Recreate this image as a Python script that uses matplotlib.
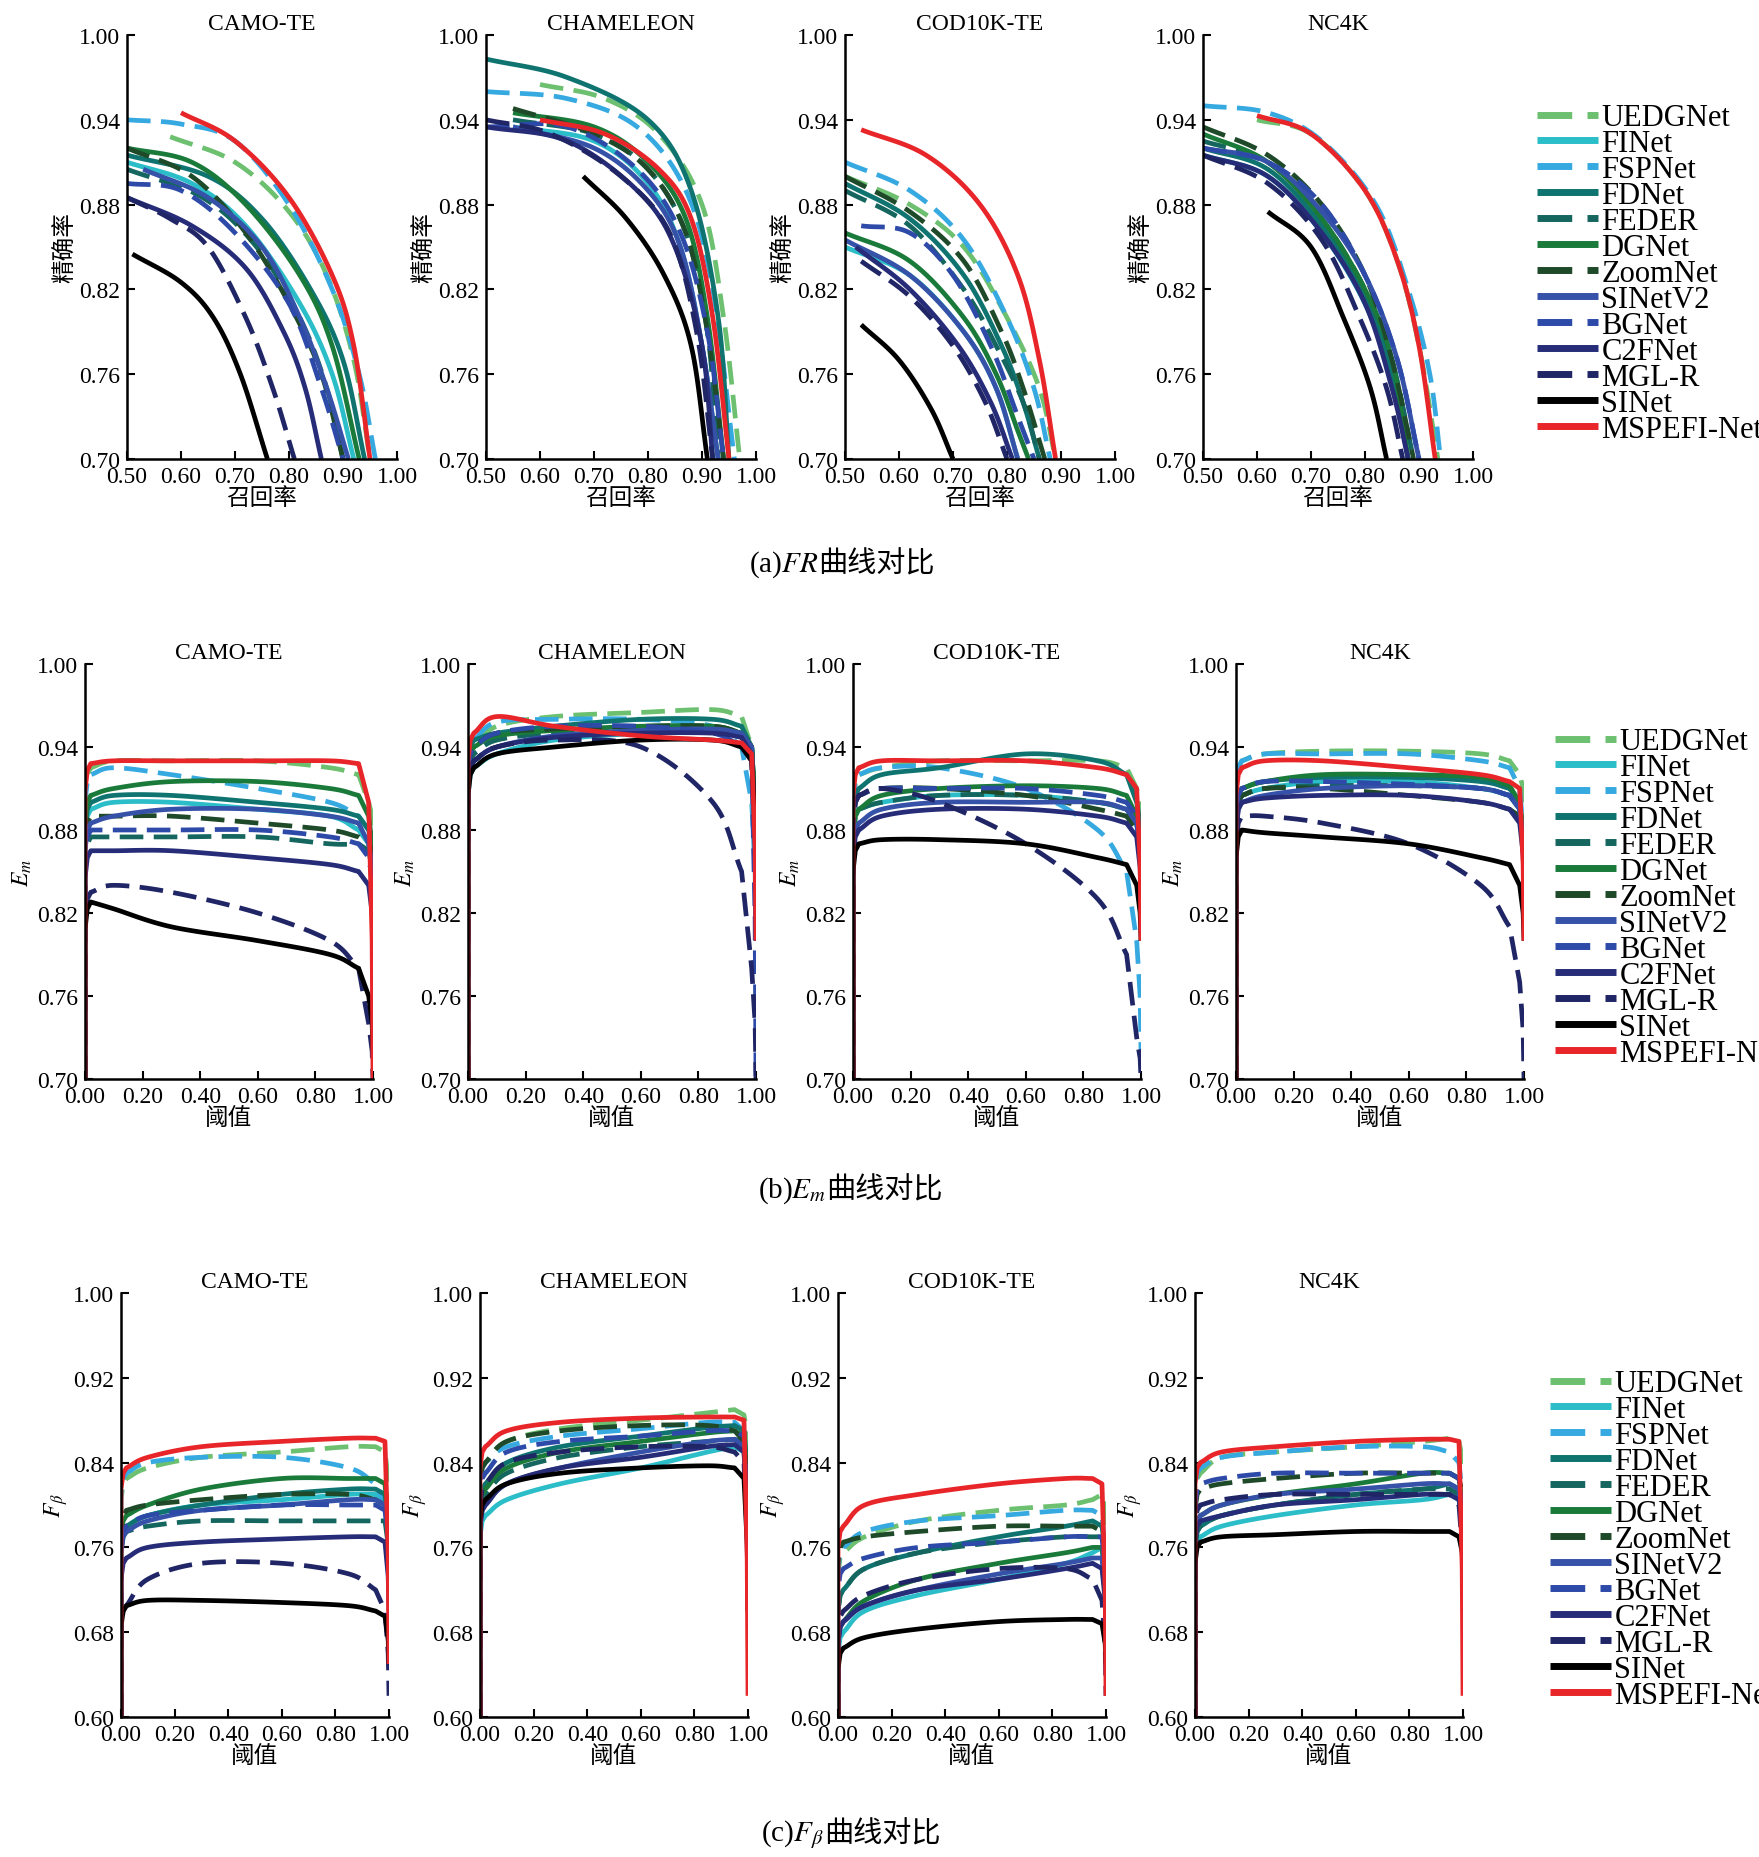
import numpy as np
import matplotlib
matplotlib.use('Agg')
import matplotlib.pyplot as plt

plt.rcParams['font.family'] = ['Liberation Serif', 'Noto Sans CJK SC']
plt.rcParams['mathtext.fontset'] = 'stix'

methods = ['UEDGNet', 'FINet', 'FSPNet', 'FDNet', 'FEDER', 'DGNet', 'ZoomNet',
           'SINetV2', 'BGNet', 'C2FNet', 'MGL-R', 'SINet', 'MSPEFI-Net']
colors = ['#6cc070', '#2bbdc8', '#36a9e1', '#0f7470', '#14665f', '#1a7a3a', '#1f4a2a',
          '#3652a8', '#2e4aa8', '#262c78', '#202566', '#000000', '#e8262a']
dashed = [True, False, True, False, True, False, True, False, True, False, True, False, False]
datasets = ['CAMO-TE', 'CHAMELEON', 'COD10K-TE', 'NC4K']

# ---- PR curves: (recall, precision) points, order as methods
PR_CAMO = [
    [(0.58,0.928),(0.70,0.91),(0.80,0.875),(0.87,0.83),(0.92,0.77),(0.95,0.70)],
    [(0.50,0.91),(0.62,0.895),(0.72,0.865),(0.82,0.81),(0.88,0.76),(0.92,0.70)],
    [(0.50,0.94),(0.60,0.937),(0.70,0.925),(0.80,0.88),(0.88,0.82),(0.93,0.76),(0.96,0.70)],
    [(0.50,0.915),(0.65,0.90),(0.75,0.87),(0.84,0.82),(0.90,0.77),(0.94,0.70)],
    [(0.50,0.905),(0.64,0.885),(0.74,0.85),(0.82,0.80),(0.87,0.75),(0.90,0.70)],
    [(0.50,0.92),(0.62,0.91),(0.72,0.88),(0.82,0.83),(0.88,0.78),(0.93,0.70)],
    [(0.50,0.92),(0.62,0.90),(0.72,0.86),(0.80,0.81),(0.86,0.76),(0.90,0.70)],
    [(0.53,0.905),(0.65,0.885),(0.75,0.85),(0.82,0.80),(0.87,0.75),(0.91,0.70)],
    [(0.50,0.895),(0.60,0.89),(0.70,0.86),(0.80,0.81),(0.86,0.75),(0.90,0.70)],
    [(0.50,0.885),(0.62,0.865),(0.72,0.835),(0.79,0.79),(0.83,0.75),(0.86,0.70)],
    [(0.50,0.885),(0.58,0.87),(0.65,0.85),(0.72,0.80),(0.77,0.75),(0.81,0.70)],
    [(0.51,0.845),(0.60,0.825),(0.66,0.80),(0.71,0.76),(0.76,0.70)],
    [(0.60,0.945),(0.70,0.925),(0.80,0.885),(0.88,0.83),(0.92,0.78),(0.95,0.70)],
]
PR_CHAM = [
    [(0.60,0.965),(0.72,0.955),(0.82,0.93),(0.90,0.88),(0.94,0.80),(0.97,0.70)],
    [(0.55,0.935),(0.70,0.925),(0.80,0.895),(0.86,0.85),(0.90,0.78),(0.93,0.70)],
    [(0.50,0.96),(0.65,0.955),(0.78,0.935),(0.87,0.89),(0.92,0.82),(0.96,0.70)],
    [(0.50,0.983),(0.65,0.97),(0.80,0.94),(0.88,0.89),(0.93,0.80),(0.95,0.70)],
    [(0.55,0.94),(0.70,0.93),(0.80,0.905),(0.87,0.86),(0.91,0.79),(0.93,0.70)],
    [(0.55,0.945),(0.70,0.935),(0.80,0.91),(0.87,0.87),(0.91,0.80),(0.94,0.70)],
    [(0.55,0.948),(0.70,0.93),(0.80,0.905),(0.87,0.86),(0.91,0.79),(0.94,0.70)],
    [(0.55,0.935),(0.70,0.92),(0.80,0.89),(0.86,0.85),(0.90,0.78),(0.93,0.70)],
    [(0.50,0.935),(0.65,0.935),(0.78,0.905),(0.86,0.86),(0.91,0.79),(0.94,0.70)],
    [(0.50,0.935),(0.65,0.925),(0.78,0.89),(0.85,0.85),(0.90,0.78),(0.92,0.70)],
    [(0.50,0.94),(0.62,0.93),(0.75,0.90),(0.84,0.86),(0.89,0.79),(0.92,0.70)],
    [(0.68,0.90),(0.76,0.87),(0.83,0.83),(0.88,0.78),(0.91,0.70)],
    [(0.60,0.94),(0.72,0.93),(0.82,0.905),(0.88,0.87),(0.92,0.80),(0.95,0.70)],
]
PR_COD = [
    [(0.50,0.90),(0.62,0.88),(0.72,0.85),(0.80,0.80),(0.86,0.75),(0.89,0.70)],
    [(0.50,0.85),(0.62,0.83),(0.72,0.79),(0.78,0.75),(0.82,0.70)],
    [(0.50,0.91),(0.62,0.89),(0.72,0.855),(0.80,0.80),(0.85,0.75),(0.88,0.70)],
    [(0.50,0.895),(0.62,0.87),(0.72,0.83),(0.79,0.78),(0.83,0.74),(0.86,0.70)],
    [(0.50,0.89),(0.62,0.865),(0.72,0.82),(0.78,0.78),(0.83,0.74),(0.86,0.70)],
    [(0.50,0.86),(0.62,0.84),(0.72,0.80),(0.78,0.76),(0.82,0.72),(0.84,0.70)],
    [(0.50,0.90),(0.62,0.875),(0.72,0.84),(0.79,0.79),(0.83,0.75),(0.87,0.70)],
    [(0.50,0.855),(0.62,0.83),(0.72,0.79),(0.78,0.75),(0.82,0.70)],
    [(0.53,0.865),(0.62,0.86),(0.70,0.83),(0.77,0.78),(0.82,0.73),(0.85,0.70)],
    [(0.52,0.85),(0.62,0.82),(0.71,0.78),(0.77,0.74),(0.81,0.70)],
    [(0.53,0.84),(0.62,0.815),(0.70,0.78),(0.76,0.74),(0.80,0.70)],
    [(0.53,0.795),(0.60,0.77),(0.66,0.735),(0.70,0.70)],
    [(0.53,0.933),(0.65,0.915),(0.75,0.88),(0.82,0.83),(0.86,0.77),(0.89,0.70)],
]
PR_NC4K = [
    [(0.60,0.94),(0.70,0.93),(0.80,0.89),(0.86,0.84),(0.90,0.78),(0.935,0.70)],
    [(0.50,0.915),(0.62,0.90),(0.72,0.86),(0.80,0.81),(0.85,0.76),(0.88,0.70)],
    [(0.50,0.95),(0.62,0.945),(0.72,0.925),(0.82,0.88),(0.88,0.82),(0.92,0.76),(0.94,0.70)],
    [(0.50,0.92),(0.62,0.905),(0.72,0.865),(0.80,0.815),(0.85,0.76),(0.88,0.70)],
    [(0.50,0.925),(0.62,0.91),(0.72,0.87),(0.80,0.82),(0.85,0.77),(0.89,0.70)],
    [(0.50,0.93),(0.62,0.91),(0.72,0.87),(0.80,0.82),(0.85,0.77),(0.88,0.70)],
    [(0.50,0.935),(0.62,0.915),(0.72,0.88),(0.80,0.83),(0.85,0.77),(0.89,0.70)],
    [(0.50,0.92),(0.62,0.91),(0.72,0.875),(0.80,0.83),(0.86,0.77),(0.90,0.70)],
    [(0.50,0.92),(0.62,0.91),(0.72,0.88),(0.80,0.83),(0.86,0.77),(0.90,0.70)],
    [(0.50,0.915),(0.62,0.90),(0.72,0.86),(0.80,0.81),(0.85,0.75),(0.88,0.70)],
    [(0.50,0.915),(0.62,0.895),(0.72,0.855),(0.79,0.80),(0.84,0.75),(0.87,0.70)],
    [(0.62,0.875),(0.70,0.85),(0.76,0.80),(0.81,0.75),(0.84,0.70)],
    [(0.60,0.943),(0.70,0.93),(0.80,0.89),(0.86,0.84),(0.90,0.78),(0.93,0.70)],
]

# ---- threshold curves: values at these thresholds (curve starts at the axis bottom at 0)
thr = [0.02, 0.1, 0.3, 0.6, 0.85, 0.95, 0.985, 1.0]
EM_CAMO = [
    [.925,.93,.93,.93,.925,.92,.90,.88], [.895,.90,.90,.895,.89,.88,.87,.84],
    [.92,.925,.92,.91,.90,.89,.88,.87], [.90,.905,.905,.90,.895,.89,.88,.85],
    [.875,.875,.875,.875,.87,.87,.865,.84], [.905,.91,.915,.915,.91,.905,.89,.85],
    [.89,.89,.89,.885,.88,.875,.87,.86], [.885,.89,.895,.895,.89,.885,.87,.84],
    [.88,.88,.88,.88,.875,.87,.86,.83], [.865,.865,.865,.86,.855,.85,.84,.80],
    [.835,.84,.835,.82,.80,.78,.74,.70], [.828,.823,.81,.80,.79,.78,.76,.72],
    [.928,.93,.93,.93,.93,.928,.90,.70],
]
EM_CHAM = [
    [.94,.955,.962,.965,.967,.962,.94,.85], [.925,.935,.945,.95,.952,.95,.94,.85],
    [.945,.958,.96,.96,.955,.94,.90,.80], [.945,.95,.955,.96,.96,.955,.94,.85],
    [.935,.945,.95,.952,.952,.95,.94,.85], [.94,.948,.952,.955,.955,.95,.94,.85],
    [.94,.95,.953,.955,.955,.95,.94,.85], [.93,.94,.948,.952,.953,.95,.94,.80],
    [.94,.95,.955,.955,.95,.94,.93,.70], [.93,.94,.947,.95,.95,.947,.935,.80],
    [.93,.94,.945,.94,.90,.85,.78,.70], [.925,.935,.94,.945,.945,.94,.93,.85],
    [.95,.962,.955,.948,.945,.943,.935,.80],
]
EM_COD = [
    [.92,.925,.93,.93,.93,.925,.91,.88], [.895,.90,.905,.905,.90,.895,.885,.85],
    [.92,.925,.925,.91,.88,.85,.80,.72], [.91,.92,.925,.935,.93,.92,.90,.87],
    [.895,.90,.905,.905,.90,.895,.885,.85], [.895,.905,.91,.912,.91,.905,.89,.85],
    [.905,.91,.91,.905,.895,.89,.88,.85], [.885,.895,.90,.90,.90,.895,.885,.84],
    [.905,.91,.91,.91,.905,.90,.89,.84], [.88,.89,.895,.895,.89,.885,.875,.83],
    [.905,.91,.90,.87,.83,.79,.73,.70], [.87,.873,.873,.87,.86,.855,.84,.80],
    [.925,.93,.93,.93,.925,.92,.91,.80],
]
EM_NC4K = [
    [.93,.935,.937,.937,.935,.93,.92,.90], [.905,.91,.915,.915,.91,.905,.895,.86],
    [.93,.935,.935,.935,.93,.925,.91,.85], [.91,.915,.918,.918,.915,.91,.90,.86],
    [.905,.91,.912,.912,.91,.905,.895,.86], [.91,.915,.92,.92,.918,.912,.90,.86],
    [.905,.91,.91,.905,.90,.895,.89,.86], [.90,.905,.91,.912,.91,.905,.895,.85],
    [.91,.915,.915,.913,.91,.905,.895,.84], [.90,.903,.905,.905,.90,.895,.885,.84],
    [.89,.89,.885,.87,.84,.81,.77,.70], [.88,.878,.875,.87,.86,.855,.84,.80],
    [.925,.93,.93,.925,.92,.915,.91,.80],
]
FB_CAMO = [
    [.825,.835,.845,.85,.855,.855,.85,.80], [.78,.79,.80,.805,.81,.81,.80,.75],
    [.83,.84,.845,.845,.835,.82,.80,.75], [.78,.79,.80,.81,.815,.815,.81,.75],
    [.775,.78,.785,.785,.785,.785,.785,.74], [.79,.80,.815,.825,.825,.825,.82,.75],
    [.795,.80,.805,.81,.81,.805,.80,.77], [.775,.785,.795,.80,.805,.805,.80,.74],
    [.78,.79,.795,.80,.80,.80,.795,.74], [.75,.76,.765,.768,.77,.77,.765,.70],
    [.705,.73,.745,.745,.735,.72,.70,.62], [.705,.71,.71,.708,.705,.70,.695,.65],
    [.835,.845,.855,.86,.863,.863,.86,.65],
]
FB_CHAM = [
    [.84,.86,.872,.88,.887,.89,.885,.85], [.79,.805,.82,.835,.85,.855,.85,.75],
    [.84,.855,.865,.872,.878,.878,.87,.80], [.82,.84,.855,.865,.873,.875,.87,.80],
    [.81,.83,.845,.855,.86,.862,.86,.75], [.815,.835,.85,.86,.868,.87,.865,.80],
    [.84,.86,.87,.875,.875,.87,.86,.80], [.80,.82,.835,.85,.86,.862,.855,.75],
    [.83,.85,.86,.865,.87,.87,.865,.75], [.80,.82,.835,.845,.855,.857,.85,.75],
    [.82,.84,.85,.855,.855,.85,.84,.70], [.805,.82,.83,.835,.837,.835,.825,.70],
    [.855,.87,.878,.882,.883,.883,.88,.62],
]
FB_COD = [
    [.755,.77,.785,.795,.80,.805,.81,.78], [.68,.70,.715,.73,.745,.755,.76,.70],
    [.76,.775,.785,.79,.795,.795,.79,.72], [.72,.74,.755,.77,.78,.785,.78,.73],
    [.72,.74,.755,.765,.77,.77,.77,.72], [.69,.71,.73,.745,.755,.76,.76,.70],
    [.765,.77,.775,.78,.78,.78,.775,.74], [.69,.705,.72,.735,.745,.75,.75,.68],
    [.74,.75,.76,.765,.77,.77,.77,.70], [.69,.705,.72,.73,.74,.745,.74,.68],
    [.70,.715,.73,.74,.74,.73,.71,.62], [.665,.675,.683,.69,.692,.692,.688,.65],
    [.78,.80,.81,.82,.825,.825,.82,.62],
]
FB_NC4K = [
    [.83,.845,.85,.855,.86,.863,.86,.83], [.77,.78,.79,.80,.805,.81,.805,.76],
    [.835,.845,.85,.855,.855,.85,.84,.78], [.78,.79,.80,.81,.815,.82,.815,.77],
    [.78,.79,.80,.81,.815,.815,.81,.77], [.79,.80,.81,.82,.83,.83,.825,.78],
    [.815,.82,.825,.83,.83,.83,.825,.80], [.79,.80,.81,.815,.82,.82,.815,.76],
    [.82,.825,.83,.83,.83,.83,.825,.78], [.785,.79,.80,.805,.81,.81,.805,.76],
    [.80,.805,.81,.81,.81,.81,.80,.72], [.765,.77,.772,.775,.775,.775,.77,.74],
    [.84,.85,.855,.86,.862,.862,.86,.62],
]


def smooth(xs, ys, n=20):
    # catmull-rom through the given points, for drawing only
    x = np.asarray(xs, float); y = np.asarray(ys, float)
    if len(x) < 3:
        return x, y
    px = np.r_[2*x[0]-x[1], x, 2*x[-1]-x[-2]]
    py = np.r_[2*y[0]-y[1], y, 2*y[-1]-y[-2]]
    ox, oy = [], []
    t = np.linspace(0, 1, n, endpoint=False)
    for i in range(1, len(px)-2):
        for p, o in ((px, ox), (py, oy)):
            p0, p1, p2, p3 = p[i-1], p[i], p[i+1], p[i+2]
            o.extend(0.5*((2*p1) + (-p0+p2)*t + (2*p0-5*p1+4*p2-p3)*t**2 + (-p0+3*p1-3*p2+p3)*t**3))
    ox.append(x[-1]); oy.append(y[-1])
    return np.array(ox), np.array(oy)


W, H = 1759, 1858
fig = plt.figure(figsize=(W/100, H/100), dpi=100)
cjk = ['Liberation Serif', 'Noto Sans CJK SC']


def style_ax(ax, xt, yt, xlab, ylab, title):
    ax.spines['top'].set_visible(False)
    ax.spines['right'].set_visible(False)
    ax.spines['left'].set_linewidth(1.8)
    ax.spines['bottom'].set_linewidth(1.8)
    ax.set_xticks(xt)
    ax.set_yticks(yt)
    ax.set_xticklabels(['%.2f' % v for v in xt])
    ax.set_yticklabels(['%.2f' % v for v in yt])
    ax.tick_params(direction='in', length=6, width=1.5, labelsize=17, pad=5)
    ax.set_xlim(xt[0], xt[-1]); ax.set_ylim(yt[0], yt[-1])
    ax.set_title(title, fontsize=17, pad=4)
    ax.set_xlabel(xlab, fontsize=17, family=cjk, labelpad=0)
    ax.set_ylabel(ylab, fontsize=17, family=cjk, labelpad=2)


def draw(ax, curve, i):
    kw = dict(color=colors[i], lw=3.4, label=methods[i], solid_capstyle='butt')
    if dashed[i]:
        kw['dashes'] = (5, 2.2)
    ax.plot(*curve, **kw)


def thr_curve(vals, ymin):
    sx, sy = smooth(thr[:-2], vals[:-2])
    sx = np.r_[0.0, 0.0, 0.008, sx, thr[-2], 0.997, 1.0]
    sy = np.r_[ymin, vals[0]-0.02, vals[0]-0.005, sy, vals[-2], (vals[-2]+vals[-1])/2, vals[-1] if vals[-1] > ymin else ymin]
    return sx, sy


rows = [
    (dict(PR=[PR_CAMO, PR_CHAM, PR_COD, PR_NC4K]), [127, 486, 845, 1203], 270, 36, 460,
     np.round(np.arange(0.5, 1.001, 0.1), 2), np.round(np.arange(0.70, 1.001, 0.06), 2), '召回率', '精确率'),
    (dict(T=[EM_CAMO, EM_CHAM, EM_COD, EM_NC4K]), [85, 468, 853, 1236], 288, 665, 1080,
     np.round(np.arange(0, 1.001, 0.2), 2), np.round(np.arange(0.70, 1.001, 0.06), 2), '阈值', '$E_m$'),
    (dict(T=[FB_CAMO, FB_CHAM, FB_COD, FB_NC4K]), [121, 480, 838, 1195], 268, 1294, 1718,
     np.round(np.arange(0, 1.001, 0.2), 2), np.round(np.arange(0.60, 1.001, 0.08), 2), '阈值', r'$F_\beta$'),
]
legend_pos = [(1525, 92), (1543, 716), (1538, 1358)]

for r, (d, lefts, w, top, bot, xt, yt, xl, yl) in enumerate(rows):
    for k in range(4):
        ax = fig.add_axes([lefts[k]/W, 1-bot/H, w/W, (bot-top)/H])
        if 'PR' in d:
            for i, pts in enumerate(d['PR'][k]):
                draw(ax, smooth([p[0] for p in pts], [p[1] for p in pts]), i)
        else:
            for i, vals in enumerate(d['T'][k]):
                draw(ax, thr_curve(vals, yt[0]), i)
        style_ax(ax, xt, yt, xl, yl, datasets[k])
        if k == 3:
            h, l = ax.get_legend_handles_labels()
            lx, ly = legend_pos[r]
            leg = fig.legend(h, l, loc='upper left', bbox_to_anchor=(lx/W, 1-ly/H), frameon=False,
                             fontsize=22, labelspacing=-0.1, handlelength=2.0, handletextpad=0.1,
                             borderaxespad=0)
            for lh in leg.get_lines():
                lh.set_linewidth(5)

# captions: math part and Chinese part drawn as two texts
captions = [('(a)$FR$', 565, 818), ('(b)$E_m$', 1191, 826), (r'(c)$F_\beta$', 1835, 824)]
for lead, y, xs in captions:
    fig.text(xs/W, 1-y/H, lead, ha='right', va='center', fontsize=21)
    fig.text(xs/W, 1-y/H, '曲线对比', ha='left', va='center', fontsize=21, family=cjk)

fig.savefig('out.png', dpi=100)
